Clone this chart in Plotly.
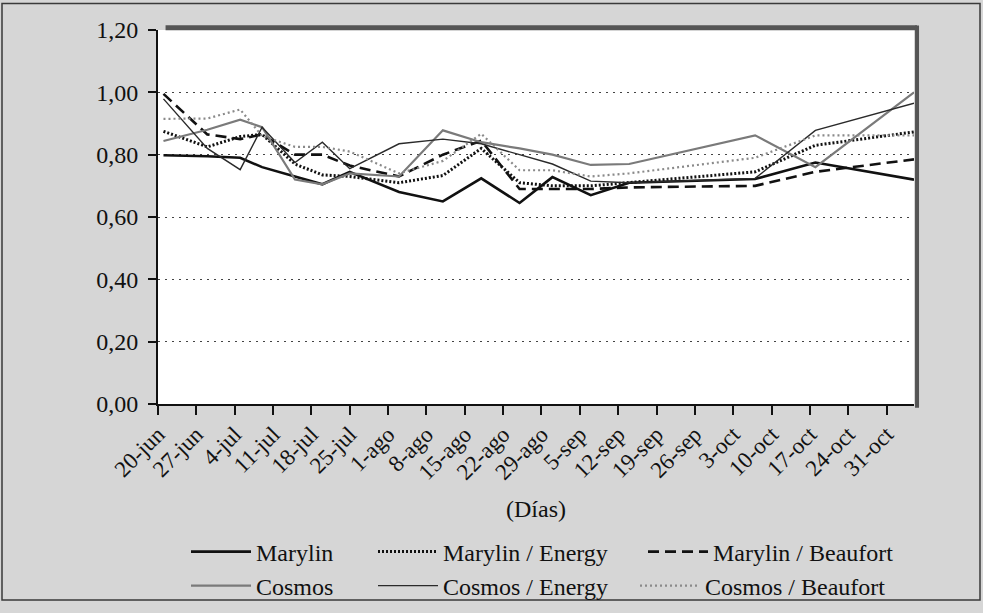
import plotly.graph_objects as go

# ---- data -------------------------------------------------------------
dates = ["2005-06-21", "2005-06-29", "2005-07-05", "2005-07-09", "2005-07-15",
         "2005-07-20", "2005-07-25", "2005-08-03", "2005-08-11", "2005-08-18",
         "2005-08-25", "2005-08-31", "2005-09-07", "2005-09-14", "2005-10-07",
         "2005-10-18", "2005-11-05"]

marylin =          [0.798, 0.795, 0.790, 0.760, 0.730, 0.705, 0.745, 0.680, 0.650, 0.724,
                    0.645, 0.728, 0.670, 0.710, 0.722, 0.775, 0.720]
marylin_energy =   [0.875, 0.825, 0.858, 0.865, 0.770, 0.735, 0.730, 0.710, 0.733, 0.820,
                    0.710, 0.700, 0.700, 0.710, 0.745, 0.830, 0.873]
marylin_beaufort = [0.995, 0.865, 0.850, 0.865, 0.800, 0.800, 0.765, 0.730, 0.800, 0.845,
                    0.690, 0.690, 0.690, 0.695, 0.700, 0.745, 0.785]
cosmos =           [0.844, 0.880, 0.912, 0.888, 0.720, 0.705, 0.740, 0.730, 0.878, 0.840,
                    0.820, 0.800, 0.767, 0.770, 0.862, 0.760, 1.000]
cosmos_energy =    [0.979, 0.820, 0.752, 0.888, 0.775, 0.840, 0.755, 0.835, 0.850, 0.835,
                    0.800, 0.770, 0.715, 0.710, 0.724, 0.878, 0.965]
cosmos_beaufort =  [0.915, 0.916, 0.945, 0.860, 0.825, 0.825, 0.810, 0.740, 0.780, 0.867,
                    0.750, 0.750, 0.730, 0.740, 0.790, 0.862, 0.862]

tick_dates = ["2005-06-20", "2005-06-27", "2005-07-04", "2005-07-11", "2005-07-18",
              "2005-07-25", "2005-08-01", "2005-08-08", "2005-08-15", "2005-08-22",
              "2005-08-29", "2005-09-05", "2005-09-12", "2005-09-19", "2005-09-26",
              "2005-10-03", "2005-10-10", "2005-10-17", "2005-10-24", "2005-10-31"]
tick_labels = ["20-jun", "27-jun", "4-jul", "11-jul", "18-jul", "25-jul", "1-ago",
               "8-ago", "15-ago", "22-ago", "29-ago", "5-sep", "12-sep", "19-sep",
               "26-sep", "3-oct", "10-oct", "17-oct", "24-oct", "31-oct"]

# ---- figure -----------------------------------------------------------
FONT = "Liberation Serif, Times New Roman, serif"
W, H = 983, 613
ML, MR, MT, MB = 158, 69, 30, 203
PW, PH = W - ML - MR, H - MT - MB


def px(x):
    return (x - ML) / PW


def py(y):
    return (H - MB - y) / PH


series = [
    ("Marylin", marylin, dict(color="#111111", width=2.6, dash="solid"), "legend"),
    ("Marylin / Energy", marylin_energy, dict(color="#111111", width=3.0, dash="2px,2px"), "legend2"),
    ("Marylin / Beaufort", marylin_beaufort, dict(color="#111111", width=2.6, dash="11px,6px"), "legend3"),
    ("Cosmos", cosmos, dict(color="#7a7a7a", width=2.2, dash="solid"), "legend4"),
    ("Cosmos / Energy", cosmos_energy, dict(color="#2a2a2a", width=1.4, dash="solid"), "legend5"),
    ("Cosmos / Beaufort", cosmos_beaufort, dict(color="#8a8a8a", width=2.2, dash="2px,3px"), "legend6"),
]

fig = go.Figure()
for name, vals, line, leg in series:
    fig.add_trace(go.Scatter(x=dates, y=vals, mode="lines", name=name, line=line,
                             legend=leg, showlegend=True))

# legend placement: 3 columns x 2 rows (container coordinates)
col_x = [[186, 373, 643], [186, 373, 635]]
row_y = [552, 586]
legends = {}
for i, (name, vals, line, leg) in enumerate(series):
    r = i // 3
    c = i % 3
    legends[leg] = dict(xref="container", yref="container",
                        x=col_x[r][c] / W, y=1 - row_y[r] / H,
                        xanchor="left", yanchor="middle",
                        orientation="h", bgcolor="rgba(0,0,0,0)", borderwidth=0,
                        itemwidth=60, font=dict(family=FONT, size=24, color="#111"))

fig.update_layout(
    width=W, height=H,
    margin=dict(l=ML, r=MR, t=MT, b=MB, pad=0),
    paper_bgcolor="#d6d6d6",
    plot_bgcolor="#ffffff",
    separators=",.",
    font=dict(family=FONT, size=24, color="#111"),
    **legends,
)

fig.update_xaxes(
    type="date",
    range=["2005-06-20", "2005-11-05"],
    tickmode="array", tickvals=tick_dates, ticktext=tick_labels,
    tickangle=-45, ticks="outside", ticklen=9, tickwidth=1.5, tickcolor="#111",
    tickfont=dict(family=FONT, size=23, color="#111"),
    ticklabelstandoff=-3,
    showgrid=False, showline=True, linecolor="#111", linewidth=1.5,
    zeroline=False,
    title=dict(text="(Días)", font=dict(family=FONT, size=24, color="#111"), standoff=16),
)
fig.update_yaxes(
    range=[0, 1.2], dtick=0.2, tick0=0, tickformat=".2f",
    ticks="outside", ticklen=8, tickwidth=1.5, tickcolor="#111",
    tickfont=dict(family=FONT, size=24, color="#111"),
    ticklabelstandoff=5,
    showgrid=True, gridcolor="#444", gridwidth=1.3, griddash="2px,5px",
    showline=True, linecolor="#111", linewidth=2,
    zeroline=False,
)

# plot-area frame (dark top/right border) and outer frame
fig.add_shape(type="line", xref="paper", yref="paper", x0=0.01, x1=1.004, y0=1.006, y1=1.006,
              line=dict(color="#555555", width=5))
fig.add_shape(type="line", xref="paper", yref="paper", x0=1.004, x1=1.004, y0=-0.01, y1=1.012,
              line=dict(color="#555555", width=4))
fig.add_shape(type="rect", xref="paper", yref="paper", x0=px(2), x1=px(980), y0=py(609), y1=py(3),
              line=dict(color="#3a3a3a", width=1.5), fillcolor="rgba(0,0,0,0)", layer="below")

fig.write_html("out.html", config={"displayModeBar": False},
               post_script="document.body.style.margin='0';document.body.style.overflow='hidden';")
